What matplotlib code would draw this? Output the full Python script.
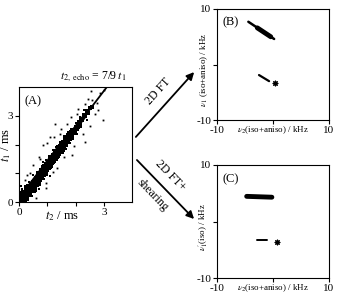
import matplotlib
matplotlib.use("Agg")
import matplotlib.pyplot as plt
from matplotlib.patches import FancyArrowPatch

plt.rcParams['font.family'] = ['Liberation Serif', 'DejaVu Serif']
plt.rcParams['mathtext.fontset'] = 'stix'

# panel A: echo maximum t2 vs t1 (ms)
core_pts = [(0.03, 0.02), (0.05, 0.15), (0.08, 0.05), (0.04, 0.30), (0.10, 0.22), (0.12, 0.10),
            (0.15, 0.35), (0.18, 0.15), (0.20, 0.05), (0.22, 0.30), (0.25, 0.45), (0.27, 0.20),
            (0.30, 0.38), (0.30, 0.10), (0.33, 0.55), (0.35, 0.30), (0.38, 0.45), (0.40, 0.25),
            (0.42, 0.62), (0.44, 0.50), (0.46, 0.38), (0.48, 0.70), (0.50, 0.55), (0.52, 0.45),
            (0.55, 0.78), (0.56, 0.62), (0.58, 0.50), (0.60, 0.85), (0.62, 0.72), (0.64, 0.60),
            (0.66, 0.95), (0.68, 0.80), (0.70, 0.68), (0.72, 1.00), (0.74, 0.88), (0.76, 0.78),
            (0.78, 1.10), (0.80, 0.95), (0.82, 0.85), (0.84, 1.18), (0.86, 1.05), (0.88, 0.95),
            (0.90, 1.25), (0.92, 1.12), (0.94, 1.02), (0.96, 1.32), (0.98, 1.20), (1.00, 1.10),
            (1.02, 1.40), (1.04, 1.28), (1.06, 1.18), (1.08, 1.48), (1.10, 1.35), (1.12, 1.25),
            (1.14, 1.55), (1.16, 1.42), (1.18, 1.34), (1.20, 1.62), (1.22, 1.50), (1.24, 1.42),
            (1.26, 1.70), (1.28, 1.58), (1.30, 1.50), (1.32, 1.78), (1.34, 1.65), (1.36, 1.58),
            (1.38, 1.85), (1.40, 1.72), (1.42, 1.66), (1.44, 1.95), (1.46, 1.80), (1.48, 1.74),
            (1.50, 2.02), (1.52, 1.88), (1.54, 1.82), (1.56, 2.10), (1.58, 1.96), (1.60, 1.92),
            (1.62, 2.18), (1.64, 2.05), (1.66, 2.00), (1.68, 2.25), (1.70, 2.12), (1.72, 2.08),
            (1.75, 2.32), (1.78, 2.22), (1.80, 2.18), (1.83, 2.42), (1.86, 2.33), (1.88, 2.28),
            (1.92, 2.52), (1.95, 2.45), (1.98, 2.40), (2.02, 2.62), (2.05, 2.55), (2.08, 2.60),
            (2.12, 2.78), (2.15, 2.70), (2.20, 2.90), (2.24, 2.84), (2.30, 3.02), (2.35, 2.98),
            (2.40, 3.15), (2.45, 3.10), (2.52, 3.28), (2.60, 3.30)]
band_pts = [(0.10, 0.45), (0.20, 0.55), (0.35, 0.70), (0.45, 0.20), (0.55, 0.35), (0.60, 0.40),
            (0.65, 1.05), (0.75, 0.60), (0.80, 1.25), (0.90, 0.80), (0.95, 1.45), (1.00, 0.95),
            (1.05, 1.60), (1.15, 1.20), (1.20, 1.80), (1.25, 1.35), (1.35, 1.95), (1.40, 1.55),
            (1.45, 2.10), (1.55, 1.70), (1.60, 2.30), (1.65, 1.85), (1.75, 2.45), (1.80, 2.05),
            (1.85, 2.55), (1.90, 2.20), (2.00, 2.75), (2.05, 2.35), (2.15, 2.95), (2.20, 2.60),
            (2.30, 3.20), (2.40, 2.85), (0.15, 0.02), (0.25, 0.08), (0.08, 0.55), (0.50, 0.95),
            (0.70, 0.45), (0.85, 1.40), (1.10, 0.90), (1.30, 1.90)]
outlier_pts = [(0.50, 1.27), (0.86, 2.00), (1.27, 2.70), (1.87, 1.62), (2.33, 2.08), (2.98, 2.85),
               (2.86, 3.78), (2.45, 3.60), (1.10, 2.25), (0.30, 0.95), (0.70, 1.55), (1.50, 2.55),
               (2.10, 3.25), (2.60, 3.55), (2.75, 3.45), (2.05, 3.05), (1.70, 2.70), (1.95, 1.95),
               (1.35, 1.20), (0.95, 0.65), (0.60, 0.15), (1.20, 1.05), (2.50, 2.65), (2.70, 3.05),
               (3.00, 3.90), (1.00, 2.05), (0.40, 1.00), (1.60, 1.55), (2.25, 2.35), (2.80, 3.20),
               (0.75, 1.50), (1.45, 2.35), (2.55, 3.85), (1.85, 2.95), (0.20, 0.75), (0.95, 0.50),
               (1.25, 2.25), (2.35, 3.40)]
# t2,echo = 7/9 t1 ridge
ridge_t2 = [0.0, 3.15]
ridge_t1 = [0.0, 4.05]
dense_t2 = [0.1, 1.5]
dense_t1 = [0.13, 1.93]
mid_t2 = [0.1, 2.3]
mid_t1 = [0.13, 2.96]

# panel B: 2D FT spectrum (kHz)
b_main_x = [-4.4, 0.2]
b_main_y = [7.7, 4.6]
b_core_x = [-2.8, -0.4]
b_core_y = [6.6, 5.0]
b_small_x = [-2.5, -0.7]
b_small_y = [-1.9, -3.0]
b_star = (0.4, -3.3)

# panel C: 2D FT + shearing (kHz)
c_main_x = [-4.7, -0.2]
c_main_y = [4.45, 4.3]
c_small_x = [-2.9, -1.1]
c_small_y = [-3.3, -3.3]
c_star = (0.7, -3.6)

W, H = 337, 303
fig = plt.figure(figsize=(W / 100, H / 100), dpi=100)


def px_axes(l, t, r, b):
    return fig.add_axes([l / W, 1 - b / H, (r - l) / W, (b - t) / H])


# ---- A
axA = px_axes(19, 87, 132, 202)
for pts, ms in ((core_pts, 2.4), (band_pts, 1.6), (outlier_pts, 1.3)):
    xs, ys = zip(*pts)
    axA.plot(xs, ys, 's', ms=ms, mew=0, color='k')
axA.plot(dense_t2, dense_t1, color='k', lw=5.0, solid_capstyle='round')
axA.plot(mid_t2, mid_t1, color='k', lw=3.0, solid_capstyle='round')
axA.plot(ridge_t2, ridge_t1, color='k', lw=1.3)
axA.set_xlim(0, 4.0)
axA.set_ylim(0, 4.0)
axA.set_xticks([0, 1, 2, 3])
axA.set_xticklabels(['0', '', '', '3'])
axA.set_yticks([0, 1, 2, 3])
axA.set_yticklabels(['0', '', '', '3'])
axA.tick_params(direction='out', length=3, labelsize=8, pad=1)
axA.set_xlabel(r'$t_2$ / ms', fontsize=9)
axA.xaxis.set_label_coords(0.38, -0.06)
axA.set_ylabel(r'$t_1$ / ms', fontsize=9)
axA.yaxis.set_label_coords(-0.05, 0.5)
axA.text(0.05, 0.93, '(A)', transform=axA.transAxes, fontsize=9, va='top')
axA.text(0.66, 1.03, r'$t_{2,\ \mathrm{echo}}$ = 7/9 $t_1$', transform=axA.transAxes,
         fontsize=8.5, ha='center', va='bottom')


def spectrum(ax, label, ylab):
    ax.set_xlim(-10, 10)
    ax.set_ylim(-10, 10)
    ax.set_xticks([-10, 0, 10])
    ax.set_xticklabels(['-10', '', '10'])
    ax.set_yticks([-10, 0, 10])
    ax.set_yticklabels(['-10', '', '10'])
    ax.tick_params(direction='out', length=3, labelsize=8, pad=1)
    ax.set_xlabel(r'$\nu_2$(iso+aniso) / kHz', fontsize=6.5)
    ax.xaxis.set_label_coords(0.5, -0.04)
    ax.set_ylabel(ylab, fontsize=6.5)
    ax.yaxis.set_label_coords(-0.06, 0.45)
    ax.text(0.05, 0.93, label, transform=ax.transAxes, fontsize=9, va='top')


# ---- B
axB = px_axes(217, 9, 329, 120)
axB.plot(b_main_x, b_main_y, color='k', lw=1.8, solid_capstyle='round')
axB.plot(b_core_x, b_core_y, color='k', lw=3.5, solid_capstyle='round')
axB.plot(b_small_x, b_small_y, color='k', lw=1.6, solid_capstyle='round')
axB.plot(*b_star, marker=(8, 2, 0), ms=4, mew=0.8, color='k')
spectrum(axB, '(B)', r'$\nu_1$ (iso+aniso) / kHz')

# ---- C
axC = px_axes(217, 165, 329, 278)
axC.plot(c_main_x, c_main_y, color='k', lw=3.5, solid_capstyle='round')
axC.plot(c_small_x, c_small_y, color='k', lw=1.4, solid_capstyle='round')
axC.plot(*c_star, marker=(8, 2, 0), ms=4, mew=0.8, color='k')
spectrum(axC, '(C)', r"$\nu_1'$(iso) / kHz")


# ---- arrows
def fig_pt(x, y):
    return (x / W, 1 - y / H)


for start, end in (((134, 139), (196, 70)), ((135, 158), (196, 221))):
    fig.add_artist(FancyArrowPatch(fig_pt(*start), fig_pt(*end), transform=fig.transFigure,
                                   arrowstyle='-|>', mutation_scale=11, lw=1.3, color='k'))

fig.text(*fig_pt(158, 91), '2D FT', rotation=48, fontsize=8.5, ha='center', va='center')
fig.text(*fig_pt(170, 176), '2D FT+', rotation=-46, fontsize=8.5, ha='center', va='center')
fig.text(*fig_pt(153, 195), 'shearing', rotation=-46, fontsize=8.5, ha='center', va='center')

fig.savefig('out.png', dpi=100)
